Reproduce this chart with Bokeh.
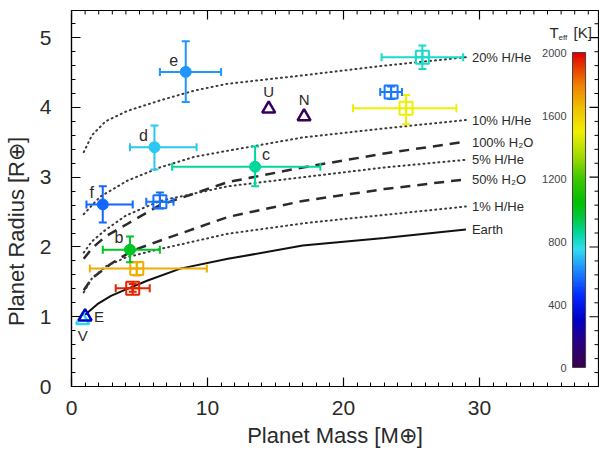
import numpy as np
from bokeh.plotting import figure
from bokeh.models import (Range1d, Whisker, TeeHead, ColumnDataSource,
                          LinearColorMapper, SingleIntervalTicker)
from bokeh.core.properties import value, field
from bokeh.embed import file_html
from bokeh.resources import INLINE

# ---------------- data ----------------
# composition curves (mass [M_earth], radius [R_earth])
earth_m = [1.0, 1.9, 2.9, 4.1, 5.6, 8.0, 11.5, 17.0, 23.0, 29.0]
earth_r = [1.03, 1.18, 1.30, 1.40, 1.52, 1.69, 1.83, 2.02, 2.13, 2.25]

hhe1_m = [0.9, 1.5, 2.5, 4.0, 6.5, 11.5, 17.5, 23.0, 29.0]
hhe1_r = [1.35, 1.55, 1.72, 1.85, 1.97, 2.19, 2.35, 2.46, 2.58]

h2o50_m = [0.9, 1.5, 2.9, 4.5, 6.5, 11.5, 17.0, 23.0, 29.0]
h2o50_r = [1.38, 1.55, 1.76, 1.95, 2.09, 2.43, 2.66, 2.83, 2.97]

hhe5_m = [0.9, 1.5, 2.4, 4.0, 6.5, 11.5, 17.0, 23.0, 29.0]
hhe5_r = [1.92, 2.08, 2.23, 2.45, 2.66, 2.87, 3.00, 3.14, 3.25]

h2o100_m = [0.9, 1.5, 2.5, 4.1, 6.5, 11.5, 17.0, 23.0, 28.6]
h2o100_r = [1.83, 1.98, 2.15, 2.33, 2.60, 2.93, 3.14, 3.34, 3.50]

hhe10_m = [0.9, 2.1, 4.1, 6.5, 9.0, 11.5, 17.0, 23.0, 29.0]
hhe10_r = [2.47, 2.72, 2.95, 3.14, 3.29, 3.38, 3.57, 3.70, 3.82]

hhe20_m = [0.9, 1.5, 2.5, 4.1, 6.5, 9.0, 11.5, 17.0, 23.0, 29.0]
hhe20_r = [3.36, 3.60, 3.80, 3.95, 4.10, 4.24, 4.34, 4.46, 4.60, 4.72]

curve_labels = ["20% H/He", "10% H/He", "100% H\u2082O", "5% H/He", "50% H\u2082O", "1% H/He", "Earth"]

# Kepler-11 planets (filled circles)
k11_name = ["b", "c", "d", "e", "f"]
k11_mass = [4.3, 13.5, 6.1, 8.4, 2.3]
k11_mass_lo = [2.3, 7.4, 4.3, 6.5, 1.1]
k11_mass_hi = [6.5, 18.3, 9.2, 11.0, 4.5]
k11_rad = [1.96, 3.15, 3.43, 4.51, 2.61]
k11_rad_lo = [1.78, 2.87, 3.11, 4.08, 2.35]
k11_rad_hi = [2.15, 3.44, 3.74, 4.95, 2.87]
k11_teff = [1000, 860, 720, 640, 560]

# other planets (open squares)
oth_mass = [6.5, 4.8, 4.5, 25.8, 23.5, 24.6]
oth_mass_lo = [5.5, 1.35, 3.25, 22.8, 22.7, 20.7]
oth_mass_hi = [7.5, 9.95, 5.75, 28.8, 24.3, 28.3]
oth_rad = [2.65, 1.69, 1.41, 4.72, 4.22, 3.99]
oth_rad_lo = [2.55, 1.59, 1.36, 4.55, 4.12, 3.76]
oth_rad_hi = [2.78, 1.78, 1.47, 4.89, 4.30, 4.18]
oth_teff = [580, 1700, 1950, 800, 590, 1500]

# solar system (open triangles)
ss_name = ["V", "E", "U", "N"]
ss_mass = [0.82, 1.0, 14.5, 17.1]
ss_rad = [0.95, 1.0, 3.98, 3.87]
ss_teff = [740, 300, 59, 46]

cbar_ticks = [0, 400, 800, 1200, 1600, 2000]

# ---------------- colour map ----------------
anchors = [(0, '#3a004c'), (150, '#2a0080'), (300, '#0000c8'), (450, '#0028ff'),
           (600, '#1a80ff'), (750, '#30def0'), (850, '#00d8a0'), (950, '#00c840'),
           (1050, '#00c000'), (1200, '#40c800'), (1350, '#a8dc00'), (1500, '#f0f000'),
           (1650, '#f0c000'), (1800, '#f08000'), (2000, '#e00000')]
TMAX = 2000.0
N = 256
def _rgb(h):
    return [int(h[i:i + 2], 16) for i in (1, 3, 5)]
_ts = np.array([a[0] for a in anchors], float)
_cs = np.array([_rgb(a[1]) for a in anchors], float)
_tt = np.linspace(0, TMAX, N)
palette = []
for t in _tt:
    c = [int(round(np.interp(t, _ts, _cs[:, k]))) for k in range(3)]
    palette.append("#%02x%02x%02x" % tuple(c))
mapper = LinearColorMapper(palette=palette, low=0, high=TMAX)
def tcol(t):
    return palette[int(min(max(t / TMAX, 0), 1) * (N - 1))]

FONT = "Liberation Sans"
TXT = "#2a2a2a"
XMAX, YMAX = 38.75, 5.39

p = figure(width=599, height=460, x_range=Range1d(0, XMAX), y_range=Range1d(0, YMAX),
           output_backend="svg", toolbar_location=None,
           min_border_left=71, min_border_right=1, min_border_top=10, min_border_bottom=74)
p.extra_y_ranges = {"teff": Range1d(-120.6, 2266.7)}
p.grid.visible = False
p.outline_line_color = "black"
p.outline_line_width = 1.2
p.background_fill_color = "white"
p.border_fill_color = "white"

for ax in (p.xaxis[0], p.yaxis[0]):
    ax.major_tick_in = 9
    ax.major_tick_out = 0
    ax.minor_tick_in = 4
    ax.minor_tick_out = 0
    ax.axis_line_color = "black"
    ax.axis_line_width = 1.2
    ax.major_tick_line_width = 1.2
    ax.major_label_text_font = FONT
    ax.major_label_text_font_size = "21px"
    ax.major_label_text_color = TXT
    ax.axis_label_text_font = FONT
    ax.axis_label_text_font_size = "22px"
    ax.axis_label_text_font_style = "normal"
    ax.axis_label_text_color = TXT

p.xaxis.ticker = SingleIntervalTicker(interval=10, num_minor_ticks=10)
p.yaxis.ticker = SingleIntervalTicker(interval=1, num_minor_ticks=5)
p.xaxis.axis_label = "Planet Mass [M\u2295]"
# trailing em-spaces push the centred title a little below the frame centre, as in the reference
p.yaxis.axis_label = "Planet Radius [R\u2295]" + "\u2003" * 3
p.xaxis.major_label_standoff = 14
p.xaxis.axis_label_standoff = 5
p.yaxis.major_label_standoff = 20
p.yaxis.axis_label_standoff = 8

# mirrored ticks on top and right frame edges
x_major = list(range(0, 40, 10))
x_minor = [v for v in range(0, 39) if v % 10]
y_major = list(range(0, 6))
y_minor = [round(0.2 * k, 1) for k in range(0, 27) if k % 5]
p.ray(x=x_major, y=[YMAX] * len(x_major), length=9, length_units="screen",
      angle=-np.pi / 2, line_color="black", line_width=1.2)
p.ray(x=x_minor, y=[YMAX] * len(x_minor), length=4, length_units="screen",
      angle=-np.pi / 2, line_color="black", line_width=1)
p.ray(x=[XMAX] * len(y_major), y=y_major, length=9, length_units="screen",
      angle=np.pi, line_color="black", line_width=1.2)
p.ray(x=[XMAX] * len(y_minor), y=y_minor, length=4, length_units="screen",
      angle=np.pi, line_color="black", line_width=1)

# ---------------- curves ----------------
curves = [(hhe20_m, hhe20_r, "dotted"), (hhe10_m, hhe10_r, "dotted"),
          (h2o100_m, h2o100_r, "dashed"), (hhe5_m, hhe5_r, "dotted"),
          (h2o50_m, h2o50_r, "dashed"), (hhe1_m, hhe1_r, "dotted"),
          (earth_m, earth_r, "solid")]
for (m, r, kind), lab in zip(curves, curve_labels):
    if kind == "dotted":
        p.line(m, r, line_color="#3a3a3a", line_width=2, line_dash="1 4", line_cap="round")
    elif kind == "dashed":
        p.line(m, r, line_color="#2a2a2a", line_width=2.5, line_dash="10 7")
    else:
        p.line(m, r, line_color="#111111", line_width=2)
    p.text(x=[29.0], y=[r[-1]], text=[lab], x_offset=6, text_baseline="middle",
           text_font=value(FONT), text_font_size="13px", text_color=TXT)

# ---------------- colour bar ----------------
grad = np.linspace(0, TMAX, N).reshape(-1, 1)
bar_x, bar_w = 36.84, 0.96
p.image(image=[grad], x=bar_x, y=0, dw=bar_w, dh=TMAX, color_mapper=mapper, y_range_name="teff")
p.quad(left=[bar_x], right=[bar_x + bar_w], bottom=[0], top=[TMAX], fill_alpha=0,
       line_color="#444444", line_width=1, y_range_name="teff")
p.text(x=[bar_x] * len(cbar_ticks), y=cbar_ticks, text=[str(t) for t in cbar_ticks],
       x_offset=-6, text_align="right", text_baseline="middle", y_range_name="teff",
       text_font=value(FONT), text_font_size="11px", text_color="#444444")
p.text(x=[bar_x], y=[TMAX], text=["T"], x_offset=-23, y_offset=-20, text_baseline="middle",
       text_font=value(FONT), text_font_size="15px", text_color=TXT, y_range_name="teff")
p.text(x=[bar_x], y=[TMAX], text=["eff"], x_offset=-14, y_offset=-15, text_baseline="middle",
       text_font=value(FONT), text_font_size="8px", text_color=TXT, y_range_name="teff")
p.text(x=[bar_x], y=[TMAX], text=["[K]"], x_offset=1, y_offset=-20, text_baseline="middle",
       text_font=value(FONT), text_font_size="15px", text_color=TXT, y_range_name="teff")

# ---------------- error bars ----------------
def add_errors(mass, mlo, mhi, rad, rlo, rhi, teff):
    src = ColumnDataSource(dict(m=mass, mlo=mlo, mhi=mhi, r=rad, rlo=rlo, rhi=rhi,
                                color=[tcol(t) for t in teff]))
    for dim, base, lo, hi in (("height", "m", "rlo", "rhi"), ("width", "r", "mlo", "mhi")):
        w = Whisker(source=src, base=base, lower=lo, upper=hi, dimension=dim,
                    line_color=field("color"), line_width=2, level="glyph",
                    upper_head=TeeHead(size=8, line_color=field("color"), line_width=2),
                    lower_head=TeeHead(size=8, line_color=field("color"), line_width=2))
        p.add_layout(w)
    return src

k_src = add_errors(k11_mass, k11_mass_lo, k11_mass_hi, k11_rad, k11_rad_lo, k11_rad_hi, k11_teff)
o_src = add_errors(oth_mass, oth_mass_lo, oth_mass_hi, oth_rad, oth_rad_lo, oth_rad_hi, oth_teff)

p.scatter("m", "r", source=o_src, marker="square_cross", size=13, fill_alpha=0,
          line_color="color", line_width=2)
p.scatter("m", "r", source=k_src, marker="circle", size=11, fill_color="color",
          line_color="color")

ss_src = ColumnDataSource(dict(m=ss_mass, r=ss_rad, name=ss_name,
                               color=[tcol(t) for t in ss_teff]))
p.scatter("m", "r", source=ss_src, marker="triangle", size=13, fill_alpha=0,
          line_color="color", line_width=2.5)

# labels
k_lab = ColumnDataSource(dict(m=k11_mass, r=k11_rad, name=k11_name,
                              dx=[-11, 11, -11, -12, -11]))
p.text("m", "r", text="name", source=k_lab, x_offset="dx", y_offset=-12,
       text_align="center", text_baseline="middle",
       text_font=value(FONT), text_font_size="16px", text_color=TXT)
ss_lab = ColumnDataSource(dict(m=ss_mass, r=ss_rad, name=ss_name,
                               dx=[0, 14, 0, 0], dy=[15, 0, -17, -17]))
p.text("m", "r", text="name", source=ss_lab, x_offset="dx", y_offset="dy",
       text_align="center", text_baseline="middle",
       text_font=value(FONT), text_font_size="15px", text_color=TXT)

open("out.html", "w").write(file_html(p, INLINE))
